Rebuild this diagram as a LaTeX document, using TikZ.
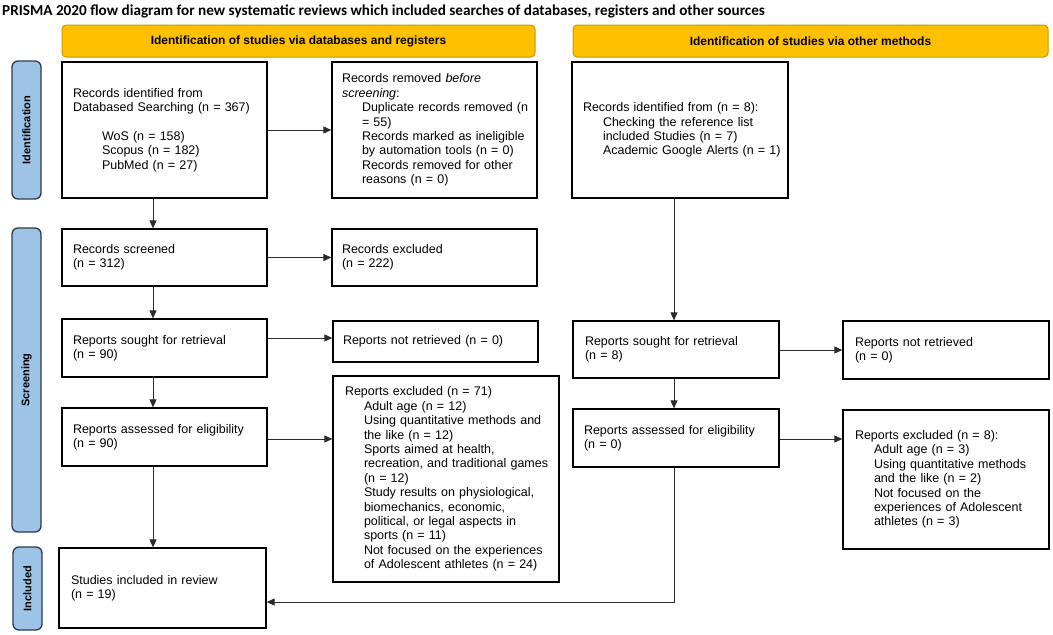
\documentclass[tikz,border=0pt]{standalone}
\usepackage{fontspec}
\setmainfont{Liberation Sans}
\newfontfamily\titlefont{Carlito}
\usetikzlibrary{arrows.meta}
\definecolor{gold}{HTML}{FFC000}
\definecolor{goldedge}{HTML}{C49A00}
\definecolor{pillblue}{HTML}{9DC3E6}
\definecolor{pilledge}{HTML}{2E3B4A}
\definecolor{linegray}{HTML}{2A2A2A}
\newcommand\IL[2][19pt]{\hspace*{#1}\mbox{#2}}
\newcommand\ML[1]{\mbox{#1}}
\begin{document}
\begin{tikzpicture}[x=1pt,y=-1pt,
  txt/.style={font=\fontsize{12.5}{14.4}\selectfont},
  box/.style={txt, draw=black, line width=1.3pt, rectangle, align=left, inner ysep=0pt},
  banner/.style={draw=goldedge, fill=gold, line width=1pt, rounded corners=4pt,
    minimum height=32pt, inner sep=0pt, font=\bfseries\fontsize{12}{14}\selectfont},
  pill/.style={draw=pilledge, fill=pillblue, line width=1.3pt, rounded corners=6pt,
    rotate=90, minimum height=29pt, inner sep=0pt, font=\bfseries\fontsize{11}{13}\selectfont},
  conn/.style={draw=linegray, line width=0.9pt, -{Triangle[length=8pt,width=7pt]}},
  connplain/.style={draw=linegray, line width=0.9pt}
]
\useasboundingbox (0,0) rectangle (1053,635);

% title
\node[anchor=west, inner sep=0pt, font=\titlefont\bfseries\fontsize{15.2}{18}\selectfont] (title) at (2,11.5)
  {PRISMA 2020 flow diagram for new systematic reviews which included searches of databases, registers and other sources};

% banners
\node[banner, minimum width=473pt] (bn1) at (298.5,41) {Identification of studies via databases and registers};
\node[banner, minimum width=475pt] (bn2) at (810.5,41) {Identification of studies via other methods};

% side pills
\node[pill, minimum width=138pt] (p1) at (26.5,130) {Identification};
\node[pill, minimum width=304pt] (p2) at (26.5,380) {Screening};
\node[pill, minimum width=83pt] (p3) at (27.5,588.5) {Included};

% left column
\node[box, text width=183pt, inner xsep=11pt, minimum height=136pt] (b1) at (164.5,130)
  {\ML{Records identified from}\\ \ML{Databased Searching (n = 367)}\\[14.4pt]
   \IL[29pt]{WoS (n = 158)}\\ \IL[29pt]{Scopus (n = 182)}\\ \IL[29pt]{PubMed (n = 27)}};
\node[box, text width=183pt, inner xsep=11pt, minimum height=57pt] (s1) at (164.5,257.5)
  {Records screened\\ (n = 312)};
\node[box, text width=183pt, inner xsep=11pt, minimum height=58pt] (r1) at (164.5,348)
  {Reports sought for retrieval\\ (n = 90)};
\node[box, text width=183pt, inner xsep=11pt, minimum height=58pt] (a1) at (164.5,437)
  {Reports assessed for eligibility\\ (n = 90)};
\node[box, text width=183pt, inner xsep=12pt, minimum height=80pt] (i1) at (162.5,588)
  {Studies included in review\\ (n = 19)};

% middle column
\node[box, text width=185pt, inner xsep=10pt, minimum height=136pt] (b2) at (434.5,130)
  {\ML{Records removed \textit{before}}\\ \ML{\textit{screening}:}\\
   \IL[20pt]{Duplicate records removed (n}\\ \IL[20pt]{= 55)}\\
   \IL[20pt]{Records marked as ineligible}\\ \IL[20pt]{by automation tools (n = 0)}\\
   \IL[20pt]{Records removed for other}\\ \IL[20pt]{reasons (n = 0)}};
\node[box, text width=185pt, inner xsep=10pt, minimum height=57pt] (s2) at (434.5,257.5)
  {Records excluded\\ (n = 222)};
\node[box, text width=185pt, inner xsep=10pt, minimum height=41pt] (r2) at (435.5,341.5)
  {Reports not retrieved (n = 0)};
\node[box, text width=202pt, inner xsep=12pt, minimum height=206pt] (a2) at (446,479)
  {\ML{Reports excluded (n = 71)}\\
   \IL{Adult age (n = 12)}\\
   \IL{Using quantitative methods and}\\ \IL{the like (n = 12)}\\
   \IL{Sports aimed at health,}\\ \IL{recreation, and traditional games}\\ \IL{(n = 12)}\\
   \IL{Study results on physiological,}\\ \IL{biomechanics, economic,}\\
   \IL{political, or legal aspects in}\\ \IL{sports (n = 11)}\\
   \IL{Not focused on the experiences}\\ \IL{of Adolescent athletes (n = 24)}\par\vspace*{10pt}};

% right columns
\node[box, text width=194pt, inner xsep=11pt, minimum height=136pt] (b3) at (680,130)
  {\ML{Records identified from (n = 8):}\\
   \IL[20pt]{Checking the reference list}\\ \IL[20pt]{included Studies (n = 7)}\\
   \IL[20pt]{Academic Google Alerts (n = 1)}};
\node[box, text width=182pt, inner xsep=12pt, minimum height=57pt] (o1) at (676,349.5)
  {Reports sought for retrieval\\ (n = 8)};
\node[box, text width=184pt, inner xsep=11pt, minimum height=58pt] (o3) at (676,438)
  {Reports assessed for eligibility\\ (n = 0)};
\node[box, text width=182pt, inner xsep=12pt, minimum height=58pt] (o2) at (946,350)
  {Reports not retrieved\\ (n = 0)};
\node[box, text width=182pt, inner xsep=12pt, minimum height=139pt] (o4) at (946,479.5)
  {\ML{Reports excluded (n = 8):}\\
   \IL{Adult age (n = 3)}\\
   \IL{Using quantitative methods}\\ \IL{and the like (n = 2)}\\
   \IL{Not focused on the}\\ \IL{experiences of Adolescent}\\ \IL{athletes (n = 3)}\par\vspace*{13pt}};

% helper coordinates
\coordinate (lx) at (153,0);
\coordinate (rx) at (674,0);
\coordinate (yr) at (0,338);
\coordinate (ya) at (0,439);
\coordinate (yo) at (0,350);
\coordinate (yi) at (0,602);
\coordinate (corner) at (674,602);

% connectors: left vertical
\draw[conn] (b1.south -| lx) -- (s1.north -| lx);
\draw[conn] (s1.south -| lx) -- (r1.north -| lx);
\draw[conn] (r1.south -| lx) -- (a1.north -| lx);
\draw[conn] (a1.south -| lx) -- (i1.north -| lx);
% left horizontal
\draw[conn] (b1.east) -- (b2.west |- b1.east);
\draw[conn] (s1.east) -- (s2.west |- s1.east);
\draw[conn] (r1.east |- yr) -- (r2.west |- yr);
\draw[conn] (a1.east |- ya) -- (a2.west |- ya);
% right column
\draw[conn] (b3.south -| rx) -- (o1.north -| rx);
\draw[conn] (o1.south -| rx) -- (o3.north -| rx);
\draw[conn] (o1.east |- yo) -- (o2.west |- yo);
\draw[conn] (o3.east |- ya) -- (o4.west |- ya);
\draw[conn] (o3.south -| rx) -- (corner) -- (i1.east |- yi);
\end{tikzpicture}
\end{document}
